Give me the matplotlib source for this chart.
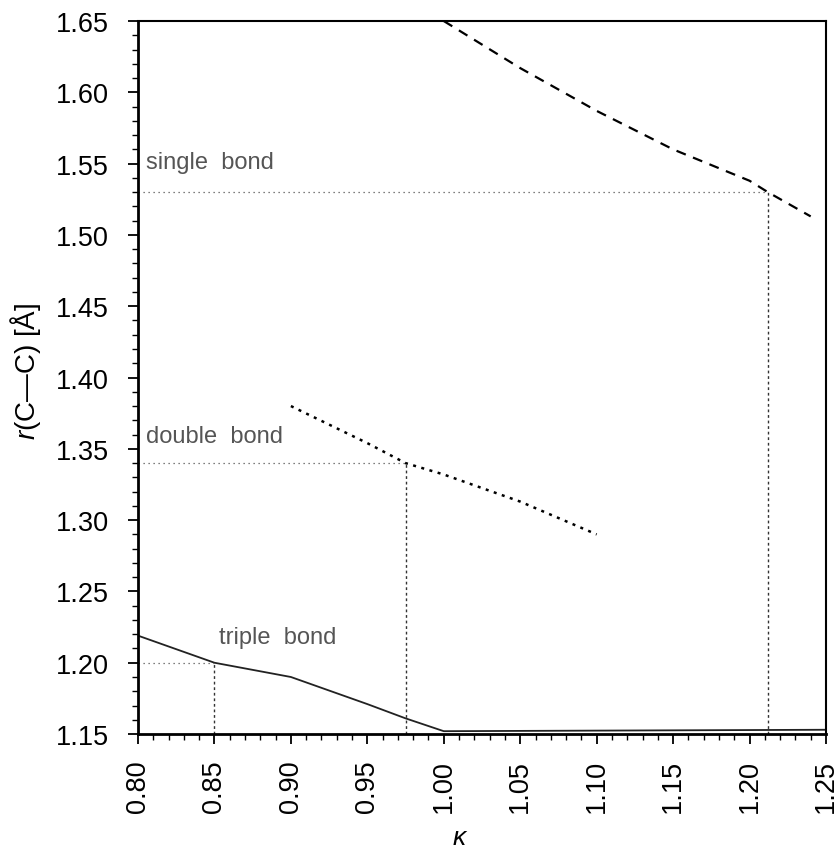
import matplotlib
matplotlib.use("Agg")
import matplotlib.pyplot as plt
from matplotlib.ticker import MultipleLocator

plt.rcParams.update({
    "font.family": ["Liberation Sans", "DejaVu Sans"],
    "font.size": 16,
    "mathtext.fontset": "custom",
    "mathtext.it": "Liberation Sans:italic",
    "mathtext.rm": "Liberation Sans",
})

# single bond curve (dashed)
kappa_single = [1.00, 1.05, 1.10, 1.15, 1.20, 1.212, 1.24]
r_single = [1.650, 1.617, 1.587, 1.560, 1.538, 1.530, 1.513]

# double bond curve (dotted)
kappa_double = [0.90, 0.95, 0.975, 1.00, 1.05, 1.10]
r_double = [1.380, 1.354, 1.340, 1.332, 1.313, 1.290]

# triple bond curve (solid)
kappa_triple = [0.80, 0.85, 0.90, 0.95, 0.975, 1.00, 1.25]
r_triple = [1.219, 1.200, 1.190, 1.171, 1.161, 1.152, 1.153]

# reference bond lengths and where the curves hit them
bond_names = ["single  bond", "double  bond", "triple  bond"]
bond_r = [1.53, 1.34, 1.20]
bond_kappa = [1.212, 0.975, 0.85]
label_pos = [(0.805, 1.551), (0.805, 1.359), (0.853, 1.218)]

fig = plt.figure(figsize=(8.4, 8.54), dpi=100)
ax = fig.add_axes([0.1643, 0.1393, 0.8190, 0.8349])

ax.plot(kappa_single, r_single, color="black", lw=1.6, ls=(0, (4.5, 3.5)))
ax.plot(kappa_double, r_double, color="black", lw=1.8, ls=(0, (1.2, 2.2)))
ax.plot(kappa_triple, r_triple, color="#222222", lw=1.3, ls="-")

for name, r, k, (tx, ty) in zip(bond_names, bond_r, bond_kappa, label_pos):
    ax.plot([0.80, k], [r, r], color="#555555", lw=0.9, ls=(0, (1, 3)))
    ax.plot([k, k], [1.15, r], color="#333333", lw=1.0, ls=(0, (2, 2)))
    ax.text(tx, ty, name, fontsize=17, color="#555555", ha="left", va="center")

ax.set_xlim(0.80, 1.25)
ax.set_ylim(1.15, 1.65)
ax.xaxis.set_major_locator(MultipleLocator(0.05))
ax.xaxis.set_minor_locator(MultipleLocator(0.01))
ax.yaxis.set_major_locator(MultipleLocator(0.05))
ax.yaxis.set_minor_locator(MultipleLocator(0.01))
ax.set_xticklabels([f"{v:.2f}" for v in ax.get_xticks()], rotation=90)
ax.set_yticklabels([f"{v:.2f}" for v in ax.get_yticks()])
ax.set_xlim(0.80, 1.25)
ax.set_ylim(1.15, 1.65)

ax.tick_params(axis="both", which="major", direction="out", length=7, width=1.3,
               labelsize=19.5)
ax.tick_params(axis="both", which="minor", direction="out", length=4, width=1.0)
ax.tick_params(axis="y", which="major", pad=14)
ax.tick_params(axis="x", which="major", pad=11)

for side in ["left", "bottom"]:
    ax.spines[side].set_linewidth(2.0)
for side in ["top", "right"]:
    ax.spines[side].set_linewidth(1.5)

ax.set_xlabel(r"$\mathit{\kappa}$", fontsize=19)
ax.xaxis.set_label_coords(0.468, -0.128)
ax.set_ylabel("$\\mathit{r}$(C\u2014C) [Å]", fontsize=20)
ax.yaxis.set_label_coords(-0.138, 0.51)

fig.savefig("out.png", dpi=100)
